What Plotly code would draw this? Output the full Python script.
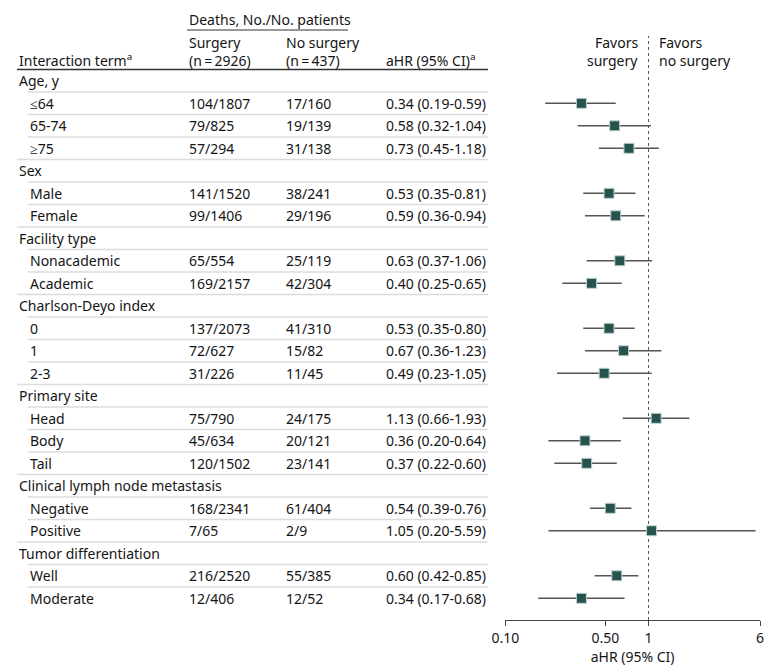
import plotly.graph_objects as go

# ---------------- data ----------------
row_labels = ["Age, y", "≤64", "65-74", "≥75",
              "Sex", "Male", "Female",
              "Facility type", "Nonacademic", "Academic",
              "Charlson-Deyo index", "0", "1", "2-3",
              "Primary site", "Head", "Body", "Tail",
              "Clinical lymph node metastasis", "Negative", "Positive",
              "Tumor differentiation", "Well", "Moderate"]
is_group = [True, False, False, False,
            True, False, False,
            True, False, False,
            True, False, False, False,
            True, False, False, False,
            True, False, False,
            True, False, False]
surgery_deaths = ["", "104/1807", "79/825", "57/294",
                  "", "141/1520", "99/1406",
                  "", "65/554", "169/2157",
                  "", "137/2073", "72/627", "31/226",
                  "", "75/790", "45/634", "120/1502",
                  "", "168/2341", "7/65",
                  "", "216/2520", "12/406"]
nosurgery_deaths = ["", "17/160", "19/139", "31/138",
                    "", "38/241", "29/196",
                    "", "25/119", "42/304",
                    "", "41/310", "15/82", "11/45",
                    "", "24/175", "20/121", "23/141",
                    "", "61/404", "2/9",
                    "", "55/385", "12/52"]
ahr = [None, 0.34, 0.58, 0.73, None, 0.53, 0.59, None, 0.63, 0.40,
       None, 0.53, 0.67, 0.49, None, 1.13, 0.36, 0.37, None, 0.54, 1.05,
       None, 0.60, 0.34]
ci_low = [None, 0.19, 0.32, 0.45, None, 0.35, 0.36, None, 0.37, 0.25,
          None, 0.35, 0.36, 0.23, None, 0.66, 0.20, 0.22, None, 0.39, 0.20,
          None, 0.42, 0.17]
ci_high = [None, 0.59, 1.04, 1.18, None, 0.81, 0.94, None, 1.06, 0.65,
           None, 0.80, 1.23, 1.05, None, 1.93, 0.64, 0.60, None, 0.76, 5.59,
           None, 0.85, 0.68]
tick_vals = [0.1, 0.5, 1, 6]
tick_text = ["0.10", "0.50", "1", "6"]

# ---------------- layout helpers ----------------
W, H = 780, 672
OFF = 8                           # page body margin
FONT = "Noto Sans"
FS = 14
TXT = "#141414"
ROW0, STEP = 80.8, 22.5          # pixel centre of row 0, row spacing
AX_Y = 620                        # pixel y of x-axis line


def px_x(p):
    return (p - OFF) / W


def py(p):
    return (H - (p - OFF)) / H


def row_of(p):
    return (p - ROW0) / STEP


n = len(row_labels)
fig = go.Figure()

cx, cy = [], []
for i in range(n):
    if ahr[i] is not None:
        cx += [ci_low[i], ci_high[i], None]
        cy += [i, i, None]
fig.add_trace(go.Scatter(x=cx, y=cy, mode="lines",
                         line=dict(color="#555555", width=1.5),
                         hoverinfo="skip", showlegend=False))
px_, py_ = [], []
for i in range(n):
    if ahr[i] is not None:
        px_.append(ahr[i])
        py_.append(i)
fig.add_trace(go.Scatter(x=px_, y=py_, mode="markers",
                         marker=dict(symbol="square", size=10, color="#27534f",
                                     line=dict(color="#bcd2d0", width=1)),
                         showlegend=False))

ann = []
shapes = []


def text(x, y, s, anchor="left", size=FS):
    ann.append(dict(x=x, y=y, xref="paper", yref="y", text=s, showarrow=False,
                    xanchor=anchor, yanchor="middle",
                    font=dict(family=FONT, size=size, color=TXT)))


text(px_x(187), row_of(19), "Deaths, No./No. patients")
text(px_x(187), row_of(42), "Surgery")
text(px_x(187), row_of(60), "(n\u2009=\u20092926)")
text(px_x(284), row_of(42), "No surgery")
text(px_x(284), row_of(60), "(n\u2009=\u2009437)")
text(px_x(17), row_of(60), "Interaction term<sup>a</sup>")
text(px_x(384), row_of(60), "aHR (95% CI)<sup>a</sup>")
text(px_x(640), row_of(42), "Favors", anchor="right")
text(px_x(640), row_of(60), "surgery", anchor="right")
text(px_x(657), row_of(42), "Favors")
text(px_x(657), row_of(60), "no surgery")

shapes.append(dict(type="line", xref="paper", yref="y",
                   x0=px_x(187), x1=px_x(348), y0=row_of(30), y1=row_of(30),
                   line=dict(color="#333333", width=1.2)))
shapes.append(dict(type="line", xref="paper", yref="y",
                   x0=px_x(17), x1=px_x(488), y0=-0.5, y1=-0.5,
                   line=dict(color="#333333", width=1.6)))

for i in range(n):
    if is_group[i]:
        text(px_x(17), i, row_labels[i])
    else:
        text(px_x(28), i, row_labels[i])
        text(px_x(187), i, surgery_deaths[i])
        text(px_x(284), i, nosurgery_deaths[i])
        text(px_x(384), i, f"{ahr[i]:.2f} ({ci_low[i]:.2f}-{ci_high[i]:.2f})")
    if i < n - 1:
        x0 = 17 if is_group[i + 1] else 28
        shapes.append(dict(type="line", xref="paper", yref="y",
                           x0=px_x(x0), x1=px_x(488), y0=i + 0.5, y1=i + 0.5,
                           line=dict(color="#dcdcdc", width=1.5)))

shapes.append(dict(type="line", xref="x", yref="paper", x0=1, x1=1,
                   y0=py(AX_Y), y1=py(36),
                   line=dict(color="#555555", width=1, dash="dot"), layer="below"))

fig.update_layout(
    width=W, height=H, margin=dict(l=0, r=0, t=0, b=0, pad=0),
    paper_bgcolor="white", plot_bgcolor="white",
    annotations=ann, shapes=shapes,
    xaxis=dict(type="log", range=[-1, 0.77815],
               domain=[px_x(505.3), px_x(760)], automargin=False,
               tickvals=tick_vals, ticktext=tick_text, ticks="outside",
               ticklen=5, tickcolor="#444444", showline=True, linecolor="#444444",
               linewidth=1, showgrid=False, zeroline=False,
               tickfont=dict(family=FONT, size=FS, color=TXT),
               title=dict(text="aHR (95% CI)", standoff=6,
                          font=dict(family=FONT, size=FS, color=TXT))),
    yaxis=dict(range=[row_of(AX_Y), row_of(OFF)], domain=[py(AX_Y), 1],
               automargin=False, visible=False, showgrid=False, zeroline=False),
    showlegend=False,
)

fig.write_html("out.html")
